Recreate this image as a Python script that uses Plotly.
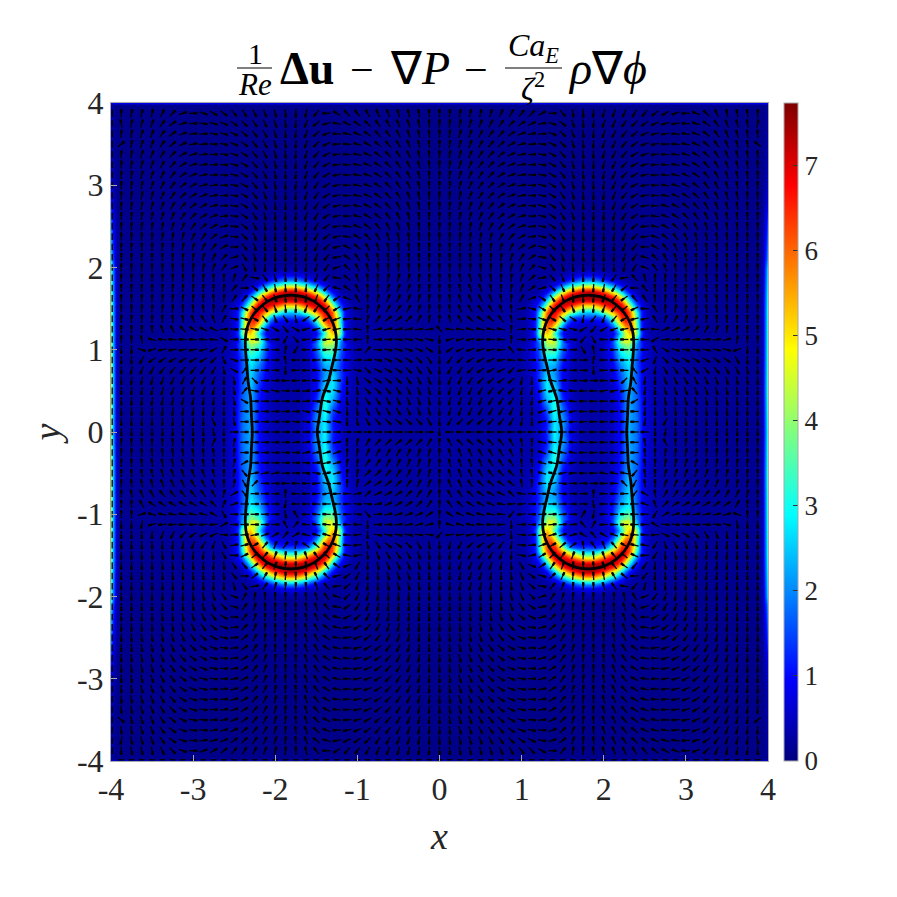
import numpy as np
import plotly.graph_objects as go

# ---- background of the field, upper right quadrant ----
BACK_X = [0.0, 0.5, 0.9, 2.7, 3.0, 3.5, 3.85, 3.93, 3.97, 4.0]
BACK_Y = [0.0, 0.5, 1.0, 1.5, 2.0, 2.1, 2.5, 2.8, 3.2, 3.9, 3.97, 4.0]
BACK_Z = [
    [.26, .22, .3, .28, .2, .15, .15, .3, 2.2, 3.8],
    [.25, .22, .3, .28, .2, .15, .15, .3, 2.4, 4.2],
    [.22, .2, .3, .28, .2, .15, .15, .3, 2.3, 4.0],
    [.18, .18, .28, .25, .18, .14, .14, .3, 2.2, 3.8],
    [.14, .14, .18, .16, .13, .12, .12, .25, 1.8, 3.2],
    [.12, .12, .14, .13, .12, .11, .11, .2, 1.4, 2.6],
    [.1, .1, .12, .11, .1, .1, .1, .16, .9, 1.9],
    [.09, .09, .1, .1, .09, .09, .09, .12, .5, 1.1],
    [.08, .08, .08, .08, .08, .08, .08, .1, .25, .6],
    [.07, .07, .07, .07, .07, .07, .07, .08, .15, .4],
    [.1, .1, .1, .1, .1, .1, .1, .1, .15, .3],
    [.8, .8, .8, .8, .8, .8, .8, .8, .8, .8],
]

# ---- waist of the right hand drop, y from 0 to 1.1 ----
WAIST_X = [0.9, 1.0, 1.1, 1.2, 1.3, 1.4, 1.5, 1.6, 1.7, 1.8, 1.9, 2.0, 2.1, 2.2, 2.3, 2.4, 2.5, 2.6, 2.7, 2.8]
WAIST_Y = [0.0, 0.1, 0.2, 0.3, 0.4, 0.5, 0.6, 0.7, 0.8, 0.9, 1.0, 1.1]
WAIST_Z = [
    [.3, .3, .35, .5, 1.2, 2.9, 2.0, .7, .35, .3, .3, .35, .5, 1.0, 2.3, 1.8, .7, .4, .3, .25],
    [.3, .3, .35, .5, 1.1, 2.8, 2.2, .8, .35, .3, .3, .35, .5, 1.0, 2.3, 1.8, .7, .4, .3, .25],
    [.3, .3, .35, .5, 1.3, 3.0, 2.0, .7, .35, .3, .3, .35, .5, 1.0, 2.3, 1.8, .7, .4, .3, .25],
    [.3, .3, .35, .6, 1.7, 3.2, 1.7, .6, .35, .3, .3, .35, .5, 1.1, 2.3, 1.7, .7, .4, .3, .25],
    [.3, .3, .4, .8, 2.3, 3.1, 1.3, .5, .3, .3, .3, .35, .5, 1.1, 2.3, 1.7, .7, .35, .3, .25],
    [.3, .3, .4, 1.0, 2.7, 2.8, 1.0, .45, .3, .3, .3, .35, .5, 1.2, 2.4, 1.6, .6, .35, .3, .25],
    [.3, .3, .45, 1.2, 2.8, 2.4, .9, .4, .3, .3, .3, .35, .6, 1.4, 2.5, 1.6, .6, .35, .3, .25],
    [.3, .3, .5, 1.3, 2.6, 2.1, .9, .4, .3, .3, .3, .35, .7, 1.6, 2.6, 1.6, .6, .35, .3, .25],
    [.3, .3, .5, 1.2, 2.4, 2.2, 1.0, .45, .3, .3, .3, .4, .8, 1.9, 2.7, 1.6, .6, .35, .3, .25],
    [.3, .3, .6, 1.3, 2.8, 2.7, 1.3, .5, .3, .3, .3, .45, 1.0, 2.4, 3.0, 1.6, .6, .35, .3, .25],
    [.3, .35, .6, 1.5, 3.6, 3.6, 1.7, .6, .3, .3, .3, .5, 1.2, 3.0, 3.7, 1.9, .7, .35, .3, .25],
    [.3, .35, .6, 1.7, 4.4, 4.6, 2.0, .7, .3, .3, .3, .5, 1.4, 3.7, 4.4, 2.2, .7, .35, .3, .25],
]

# ---- lobe of the right hand drop, y from 1.1 up, as half rows from its centre line ----
LOBE_CENTER = 1.81
LOBE_DX = [0, .05, .1, .15, .2, .25, .3, .35, .4, .45, .5, .55, .6, .65, .7, .75, .85]
LOBE_Y = [1.1, 1.15, 1.2, 1.25, 1.3, 1.35, 1.4, 1.45, 1.5, 1.55, 1.6, 1.65, 1.7, 1.75, 1.8, 1.85, 1.9, 1.95, 2.0, 2.05]
LOBE_Z = [
    [.4, .4, .42, .45, .5, .7, 1.6, 2.9, 4.1, 4.6, 4.4, 3.4, 2.1, 1.1, .6, .35, .25],
    [.4, .4, .42, .45, .5, .6, 1.2, 2.3, 3.6, 4.5, 4.8, 4.2, 2.9, 1.2, .6, .35, .25],
    [.4, .4, .42, .45, .5, .55, .9, 1.8, 3.1, 4.5, 5.2, 5.0, 3.7, 1.4, .6, .35, .25],
    [.45, .45, .45, .5, .6, .75, 1.2, 2.4, 3.7, 5.0, 5.7, 5.2, 3.5, 1.3, .6, .35, .25],
    [.5, .52, .55, .65, .8, 1.1, 2.0, 3.4, 4.8, 5.9, 6.2, 5.2, 3.3, 1.2, .6, .35, .25],
    [.75, .8, .85, .95, 1.1, 1.7, 3.0, 4.5, 5.8, 6.5, 6.3, 5.1, 3.1, 1.2, .6, .35, .25],
    [1.45, 1.4, 1.3, 1.4, 1.7, 2.6, 3.9, 5.3, 6.4, 6.7, 6.3, 5.0, 3.0, 1.2, .6, .4, .22],
    [2.4, 2.5, 2.7, 3.2, 3.8, 4.6, 5.4, 6.2, 6.8, 6.9, 6.2, 4.6, 2.8, 1.2, .6, .35, .2],
    [3.9, 4.0, 4.3, 4.8, 5.3, 6.0, 6.6, 7.1, 7.2, 6.7, 5.3, 3.6, 2.0, 1.0, .55, .3, .2],
    [5.5, 5.5, 5.8, 6.2, 6.7, 7.0, 7.2, 7.2, 6.8, 5.6, 4.0, 2.5, 1.4, .8, .45, .3, .2],
    [7.1, 7.0, 7.2, 7.3, 7.5, 7.4, 7.2, 6.7, 5.8, 4.4, 2.9, 1.7, 1.0, .6, .35, .25, .2],
    [7.6, 7.6, 7.6, 7.6, 7.4, 7.0, 6.4, 5.6, 4.4, 3.0, 1.9, 1.1, .65, .4, .28, .22, .2],
    [7.4, 7.3, 7.1, 6.8, 6.3, 5.7, 4.8, 3.9, 2.9, 1.8, 1.1, .65, .4, .28, .22, .2, .2],
    [5.8, 5.7, 5.5, 5.1, 4.5, 3.8, 3.1, 2.3, 1.6, 1.0, .6, .4, .28, .22, .2, .2, .2],
    [3.8, 3.7, 3.45, 3.1, 2.7, 2.2, 1.7, 1.2, .85, .56, .4, .28, .24, .2, .2, .2, .2],
    [2.0, 2.0, 1.85, 1.6, 1.35, 1.05, .8, .6, .45, .33, .27, .23, .2, .2, .2, .2, .2],
    [.96, .95, .85, .78, .65, .5, .4, .33, .27, .23, .2, .2, .2, .2, .2, .2, .2],
    [.47, .46, .43, .4, .35, .3, .27, .24, .22, .2, .2, .2, .2, .2, .2, .2, .2],
    [.3, .3, .3, .28, .28, .25, .25, .22, .2, .2, .2, .2, .2, .2, .2, .2, .2],
    [.17, .17, .17, .17, .17, .16, .16, .16, .15, .15, .15, .15, .15, .15, .15, .15, .15],
]

# ---- drop outline, upper right quadrant ----
INTERFACE_X = [1.488, 1.46, 1.427, 1.352, 1.305, 1.27, 1.255, 1.274, 1.329, 1.418, 1.533, 1.666, 1.81, 1.954,
               2.088, 2.202, 2.291, 2.346, 2.365, 2.36, 2.347, 2.33, 2.30, 2.29, 2.28]
INTERFACE_Y = [0.0, 0.2, 0.41, 0.62, 0.815, 0.97, 1.11, 1.254, 1.388, 1.502, 1.591, 1.646, 1.665, 1.646,
               1.591, 1.502, 1.388, 1.254, 1.11, 0.97, 0.815, 0.61, 0.41, 0.2, 0.0]

# ---- quiver directions in degrees, upper right quadrant ----
# rows run from y=3.875 down to y=0, columns from x=0 to x=3.875
ARROW_STEP = 0.125
ARROW_ANGLE = [
    [90, 85, 80, 77, 75, 70, 65, 60, 52, 45, 30, 0, -50, -80, -90, -95, -105, -110, -115, -120, -130, -140, -150, -160, 180, 160, 135, 115, 100, 100, 100, 90],
    [90, 85, 78, 72, 68, 62, 55, 45, 35, 25, 12, -18, -40, -70, -85, -95, -110, -115, -125, -135, -145, -155, -165, -172, 178, 165, 145, 125, 110, 105, 100, 80],
    [90, 85, 76, 70, 62, 55, 48, 35, 22, 12, 2, -20, -42, -68, -82, -92, -108, -118, -130, -140, -155, -165, -172, 178, 172, 160, 142, 125, 112, 105, 98, 95],
    [90, 84, 75, 68, 60, 50, 42, 30, 15, 5, -5, -25, -45, -70, -85, -95, -108, -118, -130, -145, -158, -168, -178, 175, 168, 155, 140, 125, 112, 105, 98, 140],
    [90, 84, 75, 65, 58, 48, 38, 25, 12, 3, -8, -28, -48, -72, -85, -92, -105, -118, -130, -148, -162, -172, 178, 172, 162, 150, 135, 122, 112, 105, 98, 95],
    [90, 84, 73, 65, 55, 46, 35, 22, 10, 2, -8, -30, -50, -72, -85, -92, -105, -118, -132, -150, -165, -175, 178, 170, 160, 148, 132, 120, 110, 103, 97, 93],
    [90, 85, 75, 65, 55, 45, 32, 20, 10, 0, -10, -30, -50, -72, -85, -92, -102, -116, -132, -150, -168, -178, 175, 168, 155, 145, 130, 118, 108, 102, 97, 92],
    [90, 85, 75, 66, 55, 45, 32, 20, 8, 0, -12, -32, -55, -72, -82, -90, -100, -115, -130, -152, -170, 180, 172, 165, 150, 142, 128, 118, 108, 100, 95, 92],
    [90, 86, 78, 68, 58, 46, 35, 22, 10, 0, -12, -32, -55, -72, -85, -90, -98, -112, -130, -150, -170, 178, 170, 158, 148, 138, 125, 115, 105, 100, 95, 92],
    [90, 87, 80, 70, 62, 48, 38, 25, 10, -2, -15, -35, -55, -72, -85, -90, -95, -110, -128, -148, -172, 178, 165, 152, 142, 132, 122, 112, 105, 98, 94, 91],
    [90, 88, 82, 75, 65, 55, 42, 30, 15, 0, -15, -35, -58, -72, -85, -90, -93, -105, -122, -145, -172, 172, 160, 148, 135, 125, 115, 108, 102, 96, 93, 90],
    [90, 88, 85, 80, 72, 62, 50, 38, 20, 5, -10, -35, -60, -75, -85, -90, -92, -100, -118, -140, -175, 168, 152, 138, 125, 115, 108, 102, 97, 94, 92, 90],
    [90, 90, 87, 83, 78, 72, 60, 48, 30, 8, -15, -40, -62, -78, -85, -90, -90, -98, -112, -135, -175, 160, 140, 125, 115, 105, 100, 97, 94, 92, 91, 90],
    [90, 90, 88, 86, 84, 80, 72, 62, 40, 25, -15, -45, -65, -80, -88, -90, -90, -95, -108, -130, 180, 150, 130, 115, 108, 100, 96, 94, 92, 90, 90, 90],
    [90, 90, 90, 90, 88, 85, 80, 70, 55, 35, -10, -50, -70, -82, -88, -90, -90, -92, -105, -125, 165, 135, 118, 105, 100, 95, 92, 90, 90, 90, 90, 90],
    [90, 90, 90, 90, 90, 88, 85, 75, 65, 45, -20, -55, -72, -85, -88, -90, -90, -90, -100, -120, 160, 125, 110, 100, 95, 92, 90, 90, 90, 90, 90, 90],
    [90, 92, 98, 105, 105, 98, 90, 85, 70, 40, 10, -50, -70, -85, -90, -92, -105, -125, -170, 130, 105, 90, 90, 92, 93, 93, 93, 92, 92, 90, 90, 90],
    [90, 93, 100, 108, 110, 100, 92, 85, 65, 35, 15, -45, -65, -85, -90, -93, -100, -120, -140, 178, 130, 95, 90, 92, 95, 95, 95, 93, 92, 90, 90, 90],
    [90, 95, 105, 112, 115, 110, 100, 88, 60, 20, -35, -55, -70, -85, -90, -95, -110, -130, -145, 130, 125, 95, 85, 90, 95, 97, 97, 95, 93, 92, 90, 90],
    [90, 97, 110, 118, 125, 120, 110, 95, 10, -15, -32, -45, -55, -70, -88, -95, -110, -130, -140, -155, 178, 120, 90, 80, 85, 90, 95, 95, 95, 93, 90, 90],
    [90, 100, 118, 135, 145, 140, 125, 100, 5, -5, -20, -30, -40, -35, -100, -125, -110, -130, -150, -165, -170, 120, 70, 60, 70, 80, 85, 90, 92, 92, 90, 90],
    [130, 175, 175, 170, 170, 170, 170, 90, 5, -3, -10, -15, -15, -15, -150, -130, -150, -160, -170, -175, -175, 178, 25, 25, 35, 50, 60, 70, 85, 90, 90, 90],
    [-90, 195, 195, 190, 185, 180, 180, 90, -2, 0, -5, -5, -5, -5, -130, -60, 180, 180, 180, 180, 180, -150, 5, 5, 3, 3, 3, 5, 15, 80, 90, 90],
    [-90, 215, 205, 200, 195, 190, 185, 130, 175, 0, -3, -3, -5, 0, -60, 100, 180, 180, 180, 180, 180, 120, -30, -15, -10, -10, -10, -12, -15, 200, 270, 270],
    [-90, 235, 225, 215, 210, 205, 190, 175, 175, 0, 0, 0, -3, 0, 0, 80, 180, 180, 180, 180, 200, -110, -45, -30, -30, -30, -30, -35, -35, -60, -90, -90],
    [-90, 240, 235, 225, 215, 210, 205, 225, 190, 0, 2, 10, 5, 0, 0, -90, 180, 180, 180, 130, 210, -100, -60, -55, -50, -50, -50, -50, -60, -65, -80, -90],
    [-90, 250, 245, 235, 225, 220, 215, 220, 260, 270, 180, 170, 5, 0, 0, 0, 180, 180, -135, 120, -100, -90, -70, -65, -60, -65, -65, -70, -75, -80, -85, -90],
    [-90, 255, 250, 245, 238, 230, 225, 225, 260, 265, 195, 190, 170, 175, 180, 180, 190, 190, 190, 130, 260, -90, -75, -70, -70, -70, -70, -75, -78, -82, -88, -90],
    [-90, 258, 252, 250, 245, 240, 235, 235, 265, 262, 195, 190, 185, 175, 180, 180, 180, 180, 180, -150, -100, -90, -80, -80, -75, -75, -78, -80, -82, -85, -88, -90],
    [-90, 255, 250, 245, 240, 240, 240, 245, 265, 268, 200, 195, 190, 190, 180, 180, 180, 180, 180, 180, -95, -90, -80, -85, -80, -82, -85, -85, -85, -88, -90, -90],
    [-90, 240, 225, 222, 220, 225, 230, 240, 260, 270, 190, 185, 185, 185, 185, 180, 180, 180, 180, 180, -100, -90, -115, -90, -85, -88, -88, -88, -88, -90, -90, -90],
    [-90, 180, 180, 180, 180, 180, 180, 180, 180, 180, 180, 180, 180, 180, 180, 180, 180, 180, 180, 180, 180, -90, -100, -90, -90, -90, -90, -90, -90, -90, -90, -90],
]
ARROW_LEN = 0.1

TICK_VALS = [-4, -3, -2, -1, 0, 1, 2, 3, 4]
TICK_TEXT = ["-4", "-3", "-2", "-1", "0", "1", "2", "3", "4"]
CBAR_VALS = [0, 1, 2, 3, 4, 5, 6, 7]
Z_MAX = 7.73
JET = [[0, "#00007f"], [0.125, "#0000ff"], [0.375, "#00ffff"], [0.625, "#ffff00"], [0.875, "#ff0000"], [1, "#7f0000"]]

SERIF = "Liberation Serif"
INK = "#262626"
FRAME = "#a8a8a8"
# plot area in page pixels
LEFT, RIGHT, TOP, BOTTOM = 111, 768, 103, 761


def px(x):
    return (x - LEFT) / (RIGHT - LEFT)


def py(y):
    return (BOTTOM - y) / (BOTTOM - TOP)


def add_field(fig, x, y, z):
    fig.add_trace(go.Heatmap(x=x, y=y, z=z, coloraxis="coloraxis", zsmooth="best", hoverinfo="skip"))


fig = go.Figure()

# Background over the whole square, mirrored about both axes
bz = np.array(BACK_Z)
bx = np.array(BACK_X)
by = np.array(BACK_Y)
z_top = np.hstack([bz[:, :0:-1], bz])
add_field(fig, np.concatenate([-bx[:0:-1], bx]), np.concatenate([-by[:0:-1], by]), np.vstack([z_top[:0:-1], z_top]))

# Waists of both drops
wz = np.array(WAIST_Z)
wx = np.array(WAIST_X)
wy = np.array(WAIST_Y)
w_full = np.vstack([wz[:0:-1], wz])
w_y = np.concatenate([-wy[:0:-1], wy])
add_field(fig, wx, w_y, w_full)
add_field(fig, -wx[::-1], w_y, w_full[:, ::-1])

# Four lobes
lz = np.array(LOBE_Z)
l_full = np.hstack([lz[:, :0:-1], lz])
dx_nodes = np.array(LOBE_DX)
l_x = LOBE_CENTER + np.concatenate([-dx_nodes[:0:-1], dx_nodes])
l_y = np.array(LOBE_Y)
add_field(fig, l_x, l_y, l_full)
add_field(fig, -l_x[::-1], l_y, l_full[:, ::-1])
add_field(fig, l_x, -l_y[::-1], l_full[::-1])
add_field(fig, -l_x[::-1], -l_y[::-1], l_full[::-1, ::-1])

# Quiver segments, mirrored the same way
ang = np.array(ARROW_ANGLE, dtype=float)
n_rows, n_cols = ang.shape
shaft_x, shaft_y, head_x, head_y = [], [], [], []
for k in range(n_rows):
    for i in range(n_cols):
        x0 = i * ARROW_STEP
        y0 = 3.875 - k * ARROW_STEP
        for sx in ([1, -1] if i > 0 else [1]):
            for sy in ([1, -1] if k < n_rows - 1 else [1]):
                a = np.radians(ang[k, i])
                dx = sx * np.cos(a) * ARROW_LEN
                dy = sy * np.sin(a) * ARROW_LEN
                cx, cy = sx * x0, sy * y0
                shaft_x += [cx - dx / 2, cx + dx / 2, None]
                shaft_y += [cy - dy / 2, cy + dy / 2, None]
                head_x += [cx + dx * 0.05, cx + dx / 2, None]
                head_y += [cy + dy * 0.05, cy + dy / 2, None]

# Short dashes the quiver leaves on the left and bottom walls
edge_x, edge_y = [], []
for n in range(-31, 32):
    pos = n * ARROW_STEP
    edge_x += [-3.985, -3.985, None, pos - 0.035, pos + 0.035, None]
    edge_y += [pos - 0.04, pos + 0.04, None, -3.985, -3.985, None]

fig.add_trace(go.Scatter(x=shaft_x, y=shaft_y, mode="lines", line=dict(color="black", width=1.3), hoverinfo="skip"))
fig.add_trace(go.Scatter(x=head_x, y=head_y, mode="lines", line=dict(color="black", width=2.4), hoverinfo="skip"))
fig.add_trace(go.Scatter(x=edge_x, y=edge_y, mode="lines", line=dict(color="black", width=1.3), hoverinfo="skip"))

# Drop outlines: a quadrant piece joined to its mirror about y=0
ix = np.array(INTERFACE_X)
iy = np.array(INTERFACE_Y)
for sx in [1, -1]:
    loop_x = sx * np.concatenate([ix, ix[::-1][1:]])
    loop_y = np.concatenate([iy, -iy[::-1][1:]])
    fig.add_trace(go.Scatter(x=loop_x, y=loop_y, mode="lines", hoverinfo="skip",
                             line=dict(color="black", width=2.8, shape="spline", smoothing=0.8)))

# Title set piece by piece, there is no MathJax offline
TITLE_PIECES = [
    ("1", 255, 54, 30),
    ("<i>Re</i>", 255, 85, 31),
    ("<b>\u0394u</b>", 307, 69, 46),
    ("\u2212", 362, 70, 42),
    ("\u2207<i>P</i>", 420, 69, 46),
    ("\u2212", 476, 70, 42),
    ("<i>Ca</i><sub><i>E</i></sub>", 533, 48, 32),
    ("<i>\u03b6</i><sup>2</sup>", 533, 87, 32),
    ("<i>\u03c1</i>\u2207<i>\u03d5</i>", 607, 69, 46),
]
annotations = [
    dict(text=t, x=px(cx), y=py(cy), xref="paper", yref="paper", showarrow=False, xanchor="center", yanchor="middle",
         font=dict(family=SERIF, size=s, color="black"))
    for t, cx, cy, s in TITLE_PIECES
]
shapes = [
    dict(type="line", xref="paper", yref="paper", x0=px(x0), x1=px(x1), y0=py(68), y1=py(68),
         line=dict(color="black", width=1.2))
    for x0, x1 in [(237, 272), (505, 562)]
]

axis_style = dict(
    range=[-4, 4], tickvals=TICK_VALS, ticktext=TICK_TEXT, ticks="inside", ticklen=6, tickwidth=1, tickcolor=FRAME,
    tickfont=dict(family=SERIF, size=32, color=INK), showgrid=False, zeroline=False,
    showline=True, linecolor=FRAME, linewidth=1, mirror=True,
)
fig.update_layout(
    width=897, height=897, autosize=False, showlegend=False, paper_bgcolor="white", plot_bgcolor="white",
    margin=dict(l=LEFT, r=897 - RIGHT, t=TOP, b=897 - BOTTOM, pad=0),
    annotations=annotations, shapes=shapes,
    coloraxis=dict(
        cmin=0, cmax=Z_MAX, colorscale=JET,
        colorbar=dict(
            x=px(784), xanchor="left", y=0.5, yanchor="middle", len=1, lenmode="fraction",
            thickness=14, thicknessmode="pixels", xpad=0, ypad=0,
            outlinecolor=FRAME, outlinewidth=1, ticks="inside", ticklen=5, tickcolor="#333333", tickwidth=1,
            tickvals=CBAR_VALS, ticktext=[str(v) for v in CBAR_VALS],
            tickfont=dict(family=SERIF, size=27, color=INK),
        ),
    ),
)
fig.update_xaxes(**axis_style, title=dict(text="<i>x</i>", standoff=15, font=dict(family=SERIF, size=38, color=INK)))
fig.update_yaxes(**axis_style, title=dict(text="<i>y</i>", standoff=4, font=dict(family=SERIF, size=38, color=INK)))

fig.write_html("out.html", post_script="document.body.style.margin='0';", config=dict(displayModeBar=False))
